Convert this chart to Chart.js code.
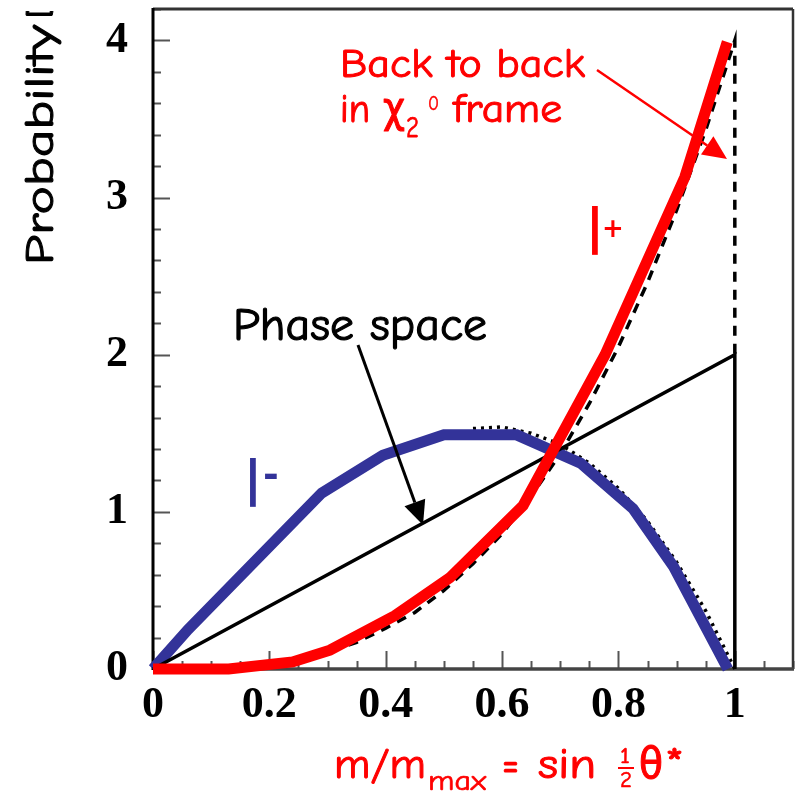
<!DOCTYPE html>
<html>
<head>
<meta charset="utf-8">
<script src="https://cdn.jsdelivr.net/npm/chart.js@4.4.1/dist/chart.umd.min.js"></script>
<style>
  html, body { margin: 0; padding: 0; background: #fff; }
  canvas { display: block; }
</style>
</head>
<body>
<canvas id="c" width="801" height="794"></canvas>
<script>
// Lepton-pair invariant mass distributions, m/m_max on the x axis.

// Phase-space line (rises to 2 at the endpoint, then drops)
const phaseX = [0, 1, 1];
const phaseY = [0, 2, 0];

// l+ histogram curve (red)
const lPlusX = [0, 0.13, 0.24, 0.304, 0.416, 0.51, 0.636, 0.777, 0.914, 0.987];
const lPlusY = [0, 0, 0.045, 0.12, 0.34, 0.58, 1.04, 2.0, 3.13, 3.99];

// l- histogram curve (blue)
const lMinusX = [0, 0.06, 0.29, 0.395, 0.5, 0.625, 0.735, 0.825, 0.895, 0.988];
const lMinusY = [0, 0.25, 1.12, 1.36, 1.49, 1.49, 1.31, 1.02, 0.65, 0];

// back-to-back l+ curve (dashed), with the drop at the endpoint
const backX = [0, 0.05, 0.1, 0.15, 0.2, 0.25, 0.3, 0.35, 0.4, 0.45, 0.5, 0.55,
               0.6, 0.65, 0.7, 0.75, 0.8, 0.85, 0.9, 0.95, 1, 1];
const backY = [0, 0, 0.005, 0.015, 0.03, 0.06, 0.11, 0.17, 0.26, 0.36, 0.5, 0.67,
               0.86, 1.1, 1.37, 1.69, 2.05, 2.46, 2.92, 3.43, 4.0, 2.0];

// back-to-back l- curve (dotted), upper part beside the blue curve
const dotX = [0.55, 0.6, 0.65, 0.7, 0.75, 0.8, 0.85, 0.9, 0.95, 1];
const dotY = [1.53, 1.54, 1.50, 1.43, 1.31, 1.15, 0.94, 0.68, 0.37, 0];

// axis labels
const xTickValues = [0, 0.2, 0.4, 0.6, 0.8, 1];
const xTickLabels = ['0', '0.2', '0.4', '0.6', '0.8', '1'];
const yTickValues = [0, 1, 2, 3, 4];
const yTickLabels = ['0', '1', '2', '3', '4'];

const RED = '#ff0000';
const BLUE = '#333399';
const HAND = '"Comic Sans MS", "Comic Neue", "DejaVu Sans", sans-serif';
const TICKFONT = { family: '"Liberation Serif", "Times New Roman", serif', size: 44, weight: 'bold' };

const pts = (xs, ys) => xs.map((x, i) => ({ x: x, y: ys[i] }));

// text squeezed/stretched horizontally to a given width, slightly thickened
function fitText(ctx, text, x, y, size, width, color, refText) {
  ctx.save();
  ctx.font = size + 'px ' + HAND;
  const w = ctx.measureText(refText || text).width;
  ctx.translate(x, y);
  ctx.scale(width ? width / w : 1, 1);
  ctx.fillStyle = color;
  ctx.strokeStyle = color;
  ctx.lineWidth = size / 40;
  ctx.lineJoin = 'round';
  ctx.textAlign = 'left';
  ctx.textBaseline = 'alphabetic';
  ctx.fillText(text, 0, 0);
  ctx.strokeText(text, 0, 0);
  ctx.restore();
}

function arrow(ctx, x0, y0, x1, y1, color, lw, headLen, headHalf) {
  const a = Math.atan2(y1 - y0, x1 - x0);
  const bx = x1 - headLen * Math.cos(a), by = y1 - headLen * Math.sin(a);
  ctx.save();
  ctx.strokeStyle = color; ctx.lineWidth = lw;
  ctx.beginPath(); ctx.moveTo(x0, y0); ctx.lineTo(bx, by); ctx.stroke();
  ctx.fillStyle = color;
  ctx.beginPath();
  ctx.moveTo(x1, y1);
  ctx.lineTo(bx + headHalf * Math.sin(a), by - headHalf * Math.cos(a));
  ctx.lineTo(bx - headHalf * Math.sin(a), by + headHalf * Math.cos(a));
  ctx.closePath(); ctx.fill();
  ctx.restore();
}

// inward tick marks and the frame box
const framePlugin = {
  id: 'framePlugin',
  beforeDatasetsDraw(chart) {
    const { ctx, chartArea: a, scales: { x, y } } = chart;
    ctx.save();
    ctx.strokeStyle = '#555';
    ctx.lineWidth = 2;
    for (let k = 0; k <= 21; k++) {
      const v = k * 0.2;
      const py = Math.round(y.getPixelForValue(v)) + 0.5;
      const len = (k % 5 === 0) ? 17 : 8;
      ctx.beginPath(); ctx.moveTo(a.left, py); ctx.lineTo(a.left + len, py); ctx.stroke();
    }
    for (let k = 0; k <= 22; k++) {
      const v = k * 0.05;
      const px = Math.round(x.getPixelForValue(v)) + 0.5;
      const len = (k % 4 === 0) ? 18 : 8;
      ctx.beginPath(); ctx.moveTo(px, a.bottom); ctx.lineTo(px, a.bottom - len); ctx.stroke();
    }
    // frame
    ctx.lineWidth = 3;
    ctx.strokeStyle = '#333';
    ctx.beginPath(); ctx.moveTo(a.left, a.top); ctx.lineTo(a.right, a.top); ctx.stroke();
    ctx.lineWidth = 2.5;
    ctx.beginPath(); ctx.moveTo(a.right, a.top); ctx.lineTo(a.right, a.bottom); ctx.stroke();
    ctx.lineWidth = 3.5;
    ctx.strokeStyle = '#444';
    ctx.beginPath(); ctx.moveTo(a.left, a.bottom); ctx.lineTo(a.right + 1, a.bottom); ctx.stroke();
    ctx.lineWidth = 3;
    ctx.strokeStyle = '#000';
    ctx.beginPath(); ctx.moveTo(a.left, a.top - 1); ctx.lineTo(a.left, a.bottom + 1); ctx.stroke();
    ctx.restore();
  },
  afterDraw(chart) {
    const ctx = chart.ctx;

    // y axis title, running off the top edge
    ctx.save();
    ctx.beginPath(); ctx.rect(0, 11, 140, 783); ctx.clip();
    ctx.translate(53, 265);
    ctx.rotate(-Math.PI / 2);
    ctx.fillStyle = '#000';
    ctx.strokeStyle = '#000';
    ctx.lineWidth = 1;
    ctx.textBaseline = 'alphabetic';
    ctx.font = '41px ' + HAND;
    ctx.fillText('D', 246, 0);
    ctx.strokeText('D', 246, 0);
    const wP = ctx.measureText('Probability').width;
    ctx.scale(240 / wP, 1);
    ctx.fillText('Probability', 0, 0);
    ctx.strokeText('Probability', 0, 0);
    ctx.restore();

    // x axis title: m/m_max = sin ½θ*
    fitText(ctx, 'm/m', 334, 778, 42, 92, RED);
    fitText(ctx, 'max', 428, 790, 28, 58, RED);
    fitText(ctx, '=', 502, 778, 42, 17, RED);
    fitText(ctx, 'sin', 538, 778, 42, 58, RED);
    fitText(ctx, '1', 620, 763, 22, 10, RED);
    fitText(ctx, '2', 620, 787, 22, 12, RED);
    ctx.save();
    ctx.strokeStyle = RED; ctx.lineWidth = 2;
    ctx.beginPath(); ctx.moveTo(618, 768); ctx.lineTo(634, 768); ctx.stroke();
    ctx.restore();
    fitText(ctx, 'θ', 639, 778, 42, 24, RED);
    fitText(ctx, '*', 665, 778, 42, 19, RED);

    // "Back to back in χ2⁰ frame"
    fitText(ctx, 'Back to back', 340, 77, 40, 245, RED);
    fitText(ctx, 'in', 340, 122, 40, 30, RED);
    fitText(ctx, 'χ', 383, 122, 42, 22, RED);
    fitText(ctx, '2', 406, 137, 30, 13, RED);
    fitText(ctx, '0', 428, 110, 20, 11, RED);
    fitText(ctx, 'frame', 453, 122, 40, 109, RED);
    arrow(ctx, 597, 70, 727, 159, RED, 2.5, 24, 11);

    // Phase space label and arrow
    fitText(ctx, 'Phase space', 233, 340, 46, 254, '#000');
    arrow(ctx, 358, 345, 423, 525, '#000', 3, 24, 11);

    // curve labels l- and l+
    ctx.save();
    ctx.textAlign = 'center';
    ctx.textBaseline = 'alphabetic';
    ctx.font = '64px "DejaVu Sans", sans-serif';
    ctx.fillStyle = BLUE;
    ctx.fillText('l', 253, 507);
    ctx.fillStyle = RED;
    ctx.fillText('l', 595, 255);
    ctx.textBaseline = 'middle';
    ctx.font = 'bold 38px "DejaVu Sans", sans-serif';
    ctx.fillStyle = BLUE;
    ctx.fillText('-', 271, 477);
    ctx.font = 'bold 26px "DejaVu Sans", sans-serif';
    ctx.fillStyle = RED;
    ctx.fillText('+', 613, 230);
    ctx.restore();
  }
};

new Chart(document.getElementById('c'), {
  type: 'scatter',
  data: {
    datasets: [
      { label: 'l+', data: pts(lPlusX, lPlusY), showLine: true, borderColor: RED, borderWidth: 11,
        pointRadius: 0, clip: false, order: 0 },
      { label: 'phase space', data: pts(phaseX, phaseY), showLine: true, borderColor: '#000', borderWidth: 3.5,
        pointRadius: 0, clip: false, order: 1 },
      { label: 'l-', data: pts(lMinusX, lMinusY), showLine: true, borderColor: BLUE, borderWidth: 11,
        pointRadius: 0, clip: false, order: 2 },
      { label: 'l+ back to back', data: pts(backX, backY), showLine: true, borderColor: '#000', borderWidth: 3.5,
        borderDash: [10, 8], pointRadius: 0, clip: false, order: 3 },
      { label: 'l- back to back', data: pts(dotX, dotY), showLine: true, borderColor: '#000', borderWidth: 3.5,
        borderDash: [3, 5], pointRadius: 0, clip: false, order: 4 }
    ]
  },
  options: {
    responsive: false,
    animation: false,
    devicePixelRatio: 1,
    layout: { padding: { top: 9, right: 8, left: 0, bottom: 0 } },
    plugins: { legend: { display: false }, tooltip: { enabled: false } },
    elements: { line: { tension: 0 } },
    scales: {
      x: {
        type: 'linear', position: 'bottom', min: 0, max: 1.1,
        afterBuildTicks: s => { s.ticks = xTickValues.map(v => ({ value: v })); },
        afterFit: s => { s.height = 125; s.paddingLeft = 0; s.paddingRight = 0; },
        grid: { display: false, drawTicks: false },
        border: { display: false },
        ticks: {
          autoSkip: false, maxRotation: 0, minRotation: 0, padding: 10,
          color: '#000', font: TICKFONT,
          callback: v => xTickLabels[xTickValues.indexOf(v)]
        }
      },
      y: {
        type: 'linear', position: 'left', min: 0, max: 4.2,
        afterBuildTicks: s => { s.ticks = yTickValues.map(v => ({ value: v })); },
        afterFit: s => { s.width = 153; s.paddingTop = 0; s.paddingBottom = 0; },
        grid: { display: false, drawTicks: false },
        border: { display: false },
        ticks: {
          autoSkip: false, padding: 25,
          color: '#000', font: TICKFONT,
          callback: v => yTickLabels[yTickValues.indexOf(v)]
        }
      }
    }
  },
  plugins: [framePlugin]
});
</script>
</body>
</html>
